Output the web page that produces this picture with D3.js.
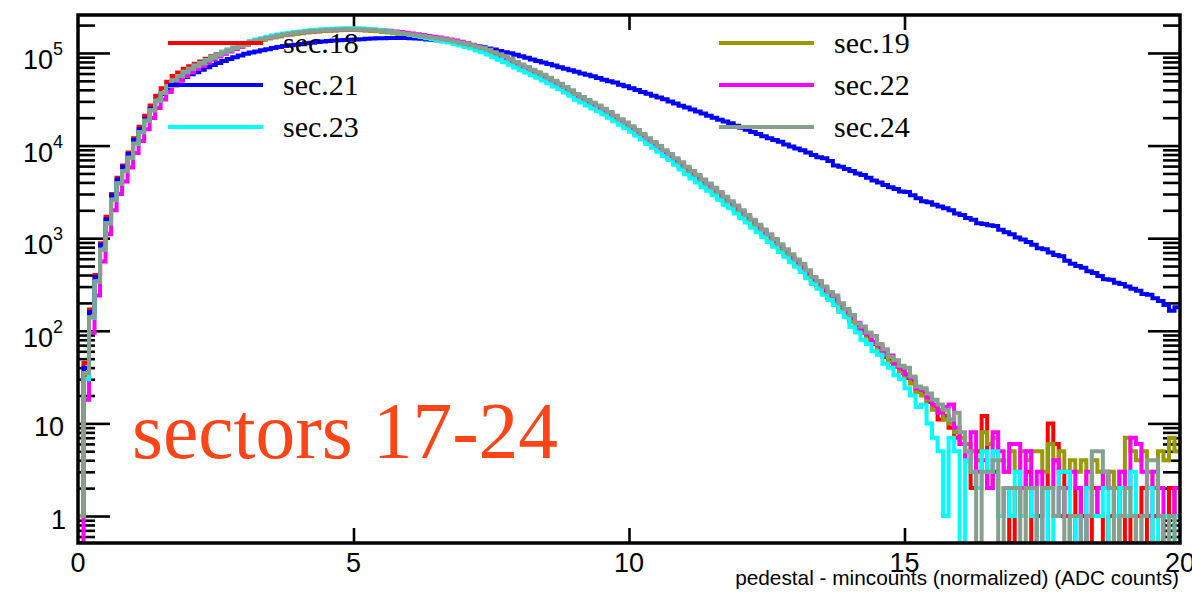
<!DOCTYPE html>
<html>
<head>
<meta charset="utf-8">
<script src="https://cdn.jsdelivr.net/npm/d3@7"></script>
<style>
  html, body { margin: 0; padding: 0; background: #fff; }
  svg { display: block; }
</style>
</head>
<body>
<svg id="chart" width="1192" height="592"></svg>
<script>
// ---- data: six sector histograms, 200 bins over [0, 20) ADC counts ----
const sectorNames = ["sec.18", "sec.19", "sec.21", "sec.22", "sec.23", "sec.24"];
const xRange = [0, 20];
const nBins = 200;

const sec18 = [
  1,45,170,400,880,1700,3000,4500,6100,8400,
  12000,16000,21000,27000,34500,41500,49000,56500,61500,67500,
  72000,76500,81000,86500,92000,97500,103000,108500,114000,119500,
  124000,130000,135000,140000,145000,148500,152500,156500,159500,162500,
  165500,168500,170500,172000,174000,175000,176000,177000,178000,178000,
  178000,177000,176000,175000,173000,171000,168500,165500,162500,159500,
  155000,152000,149000,146000,143000,140000,137000,134000,130000,126000,
  122500,118500,114500,110500,105000,99000,93000,87500,81500,75500,
  70500,66000,62000,58000,54000,50500,47000,43500,40000,37000,
  33800,31500,29100,27300,25400,23500,21600,19700,18100,16600,
  14900,13500,12200,11000,10000,9100,8200,7450,6700,6100,
  5400,4900,4400,3950,3600,3200,2900,2550,2300,2050,
  1850,1650,1450,1300,1140,1000,900,800,700,610,
  520,470,400,350,310,265,230,205,170,155,
  130,112,95,86,72,66,52,48,41,38,
  31,28,22,21,17,15,11,12,9,7,
  6,4,2,5,12,2,3,1,2,0,
  2,1,3,0,1,2,10,6,3,1,
  0,2,1,0,2,1,0,1,2,0,
  1,0,1,2,0,1,0,1,2,1
];

const sec19 = [
  1,32,145,345,760,1450,2650,3950,5300,7400,
  10500,14000,18500,24000,30500,37000,44000,50500,55500,61000,
  66000,71000,76000,82000,88000,93500,99000,105000,111000,117000,
  122500,128500,133500,138000,143000,147000,151000,155000,158000,160500,
  163500,166500,168500,170500,172500,173500,174500,175500,176500,176500,
  176500,175500,174500,173500,171500,169500,166500,163500,160000,156500,
  153000,149500,146000,143000,140000,137000,134000,131000,127500,123500,
  120000,116000,112000,107500,102500,96500,90500,85000,79000,73000,
  68000,64000,60000,56500,53000,49000,45500,42500,39000,36000,
  32800,30500,28200,26400,24600,22800,20900,19100,17600,16100,
  14400,13100,11800,10700,9700,8800,7900,7200,6500,5900,
  5250,4700,4300,3800,3450,3100,2800,2500,2200,2000,
  1780,1580,1400,1250,1100,980,870,770,680,600,
  500,460,380,330,300,250,225,200,165,150,
  125,105,96,80,74,60,55,46,42,35,
  33,27,22,20,18,14,14,11,10,8,
  7,6,5,4,8,6,7,4,3,5,
  3,5,4,5,5,3,6,4,5,3,
  4,3,4,2,4,3,2,3,2,3,
  7,5,4,5,3,2,5,4,7,5
];

const sec21 = [
  1,40,160,380,850,1600,2900,4300,5900,8100,
  11500,15000,19500,25000,30500,36000,41000,46000,51000,55000,
  59000,62000,66000,70000,74000,78000,82000,86000,90000,94000,
  98000,101000,104000,107000,110000,113000,116000,119000,121000,123000,
  125000,127000,129000,131000,133000,135000,136000,137000,138000,139000,
  140000,141000,142000,143000,144000,144000,145000,145000,145000,145000,
  144000,143000,142000,140000,139000,137000,135000,133000,131000,128000,
  126000,122000,119000,115000,112000,109000,105000,102000,99000,95500,
  92000,89000,85000,82000,79000,76000,73000,70000,67500,65000,
  62500,60000,58000,56000,53700,51500,49500,47900,45500,43600,
  41700,39700,38000,36300,34600,33100,31600,30000,28500,26900,
  25700,24500,23400,22200,21000,20000,19000,18200,17400,16400,
  15600,14800,14000,13300,12600,12000,11500,11000,10300,9800,
  9300,8900,8400,7900,7500,7300,6800,6100,5900,5600,
  5300,5000,4800,4500,4200,4000,3750,3550,3400,3200,
  3150,2900,2700,2500,2450,2300,2200,2100,2000,1850,
  1780,1650,1580,1450,1420,1380,1350,1230,1160,1100,
  1020,970,910,850,780,760,700,660,640,570,
  530,500,480,440,420,390,360,355,330,320,
  300,285,270,250,245,225,210,190,165,180
];

const sec22 = [
  0,18,95,240,560,1100,2000,3000,4100,5800,
  8300,11200,15000,19800,25500,31500,38000,44500,50000,56000,
  61500,67000,72500,78500,85000,91500,98000,104000,110500,117000,
  124000,130000,135500,140500,145500,150000,154000,158000,161000,164000,
  167000,170000,172000,174000,176000,177000,178000,179000,180000,180500,
  180500,180000,179000,178000,177000,175500,173500,171000,168000,165000,
  162000,159000,156000,152500,149500,146500,143000,140000,136000,132000,
  127500,123000,118000,112500,106000,100000,94000,89000,83500,77500,
  72500,68500,64000,60000,56000,52500,48500,45000,41500,38500,
  35000,32500,30000,28000,26000,24200,22300,20400,18700,17200,
  15500,14100,12800,11500,10500,9500,8500,7800,7000,6300,
  5650,5100,4600,4150,3750,3350,3000,2700,2400,2150,
  1920,1710,1520,1340,1190,1050,940,830,730,640,
  560,490,430,370,330,285,250,220,190,160,
  140,122,102,92,76,70,58,54,44,40,
  34,31,24,23,19,16,13,15,16,9,
  6,4,8,3,4,2,8,5,3,6,
  6,2,5,1,3,0,2,4,1,2,
  3,2,0,3,1,2,3,2,1,3,
  2,7,6,3,1,3,2,1,1,2
];

const sec23 = [
  1,30,138,340,750,1450,2600,3900,5300,7400,
  10400,13900,18500,24000,30500,37000,44000,51000,56500,62500,
  67500,73000,78000,84000,90000,96500,102500,109000,115000,121000,
  128000,134500,139500,144500,149500,154000,158000,162000,165000,168000,
  171000,174000,176500,178500,180500,181500,182500,183500,184500,184500,
  184500,183500,182000,180500,178000,175500,171000,167000,163500,160000,
  156000,152500,148500,144500,141000,137000,133000,129500,125000,120500,
  116000,111500,106500,101500,96000,90000,84500,80000,74500,69500,
  65000,61500,57500,54000,50500,47000,43500,40500,37500,34500,
  31300,29100,27000,25200,23500,21700,20000,18300,16800,15400,
  14100,12800,11600,10400,9500,8600,7700,7000,6200,5500,
  4900,4400,4000,3550,3250,2900,2600,2300,2100,1850,
  1650,1480,1300,1160,1030,910,810,710,630,550,
  490,430,370,320,285,245,215,190,160,140,
  110,96,80,72,60,55,44,40,33,30,
  24,20,15,16,10,7,5,1,7,5,
  0,4,3,2,5,3,5,1,2,1,
  3,1,2,1,0,2,0,1,3,3,
  0,1,0,2,1,1,2,0,1,2,
  1,3,0,1,2,0,1,1,0,1
];

const sec24 = [
  1,35,140,340,750,1450,2600,3900,5300,7400,
  10500,14000,18500,24000,30500,37000,44000,51000,56000,62000,
  67000,72000,77000,83000,89000,95000,101000,107000,113000,119000,
  125000,131000,136000,141000,146000,150000,154000,158000,161000,164000,
  167000,170000,172000,174000,176000,177000,178000,179000,180000,180000,
  180000,179000,178000,177000,175000,173000,170000,167000,164000,161000,
  158000,155000,152000,149000,146000,143000,140000,137000,133000,129000,
  125000,121000,117000,113000,108000,102000,97000,92000,86000,80000,
  75000,70500,66000,62000,58000,54000,50000,46500,43000,39500,
  36000,33500,31000,29000,27000,25000,23000,21000,19300,17700,
  16200,14700,13300,12000,10900,9900,8900,8100,7300,6600,
  5900,5300,4800,4300,3900,3500,3150,2800,2500,2250,
  2000,1780,1580,1400,1240,1100,980,860,760,670,
  590,530,450,380,345,300,262,240,198,172,
  148,120,111,96,88,72,63,52,48,42,
  40,32,25,24,21,18,16,14,11,13,
  8,5,3,0,3,3,4,0,2,2,
  2,0,2,2,0,2,2,1,2,0,
  1,1,0,1,5,5,3,2,0,1,
  2,1,0,1,4,4,1,0,1,0
];

const seriesValues = [sec18, sec19, sec21, sec22, sec23, sec24];
const xTickValues = [0, 5, 10, 15, 20];
const yDecades = [0, 1, 2, 3, 4, 5];
const yRange = [0.511, 2.57e5];
const xTitle = "pedestal - mincounts (normalized) (ADC counts)";
const caption = "sectors 17-24";

// ---- styling ----
const colors = ["#ff0000", "#999900", "#0000ff", "#ff00ff", "#00ffff", "#87a08e"];
const frame = { left: 78, top: 15, right: 1180, bottom: 543 };
const sansFont = "'Liberation Sans', Arial, Helvetica, sans-serif";
const serifFont = "'Liberation Serif', 'Times New Roman', Times, serif";

const svg = d3.select("#chart");

const x = d3.scaleLinear().domain(xRange).range([frame.left, frame.right]);
const y = d3.scaleLog().domain(yRange).range([frame.bottom, frame.top]).clamp(true);

svg.append("defs").append("clipPath").attr("id", "plotClip")
  .append("rect")
  .attr("x", frame.left).attr("y", frame.top)
  .attr("width", frame.right - frame.left).attr("height", frame.bottom - frame.top);

// ---- axes: log ticks on left/right, linear ticks on bottom/top ----
const majorY = yDecades.map(d => Math.pow(10, d));
const minorY = [];
for (let d = -1; d <= 5; d++) {
  for (let k = 2; k <= 9; k++) {
    const v = k * Math.pow(10, d);
    if (v >= yRange[0] && v <= yRange[1]) minorY.push(v);
  }
}
const innerX = xTickValues.filter(v => v > xRange[0] && v < xRange[1]);

const axes = svg.append("g").attr("class", "axes");

function tickStyle(g) {
  g.select(".domain").remove();
  g.selectAll("line").attr("stroke", "#000").attr("stroke-width", 2.6);
  g.selectAll("text").remove();
}

axes.append("g").attr("transform", `translate(${frame.left},0)`)
  .call(d3.axisLeft(y).tickValues(majorY).tickSizeInner(-32).tickSizeOuter(0).tickFormat(""))
  .call(tickStyle);
axes.append("g").attr("transform", `translate(${frame.left},0)`)
  .call(d3.axisLeft(y).tickValues(minorY).tickSizeInner(-17).tickSizeOuter(0).tickFormat(""))
  .call(tickStyle);
axes.append("g").attr("transform", `translate(${frame.right},0)`)
  .call(d3.axisRight(y).tickValues(majorY).tickSizeInner(-32).tickSizeOuter(0).tickFormat(""))
  .call(tickStyle);
axes.append("g").attr("transform", `translate(${frame.right},0)`)
  .call(d3.axisRight(y).tickValues(minorY).tickSizeInner(-17).tickSizeOuter(0).tickFormat(""))
  .call(tickStyle);
axes.append("g").attr("transform", `translate(0,${frame.bottom})`)
  .call(d3.axisBottom(x).tickValues(innerX).tickSizeInner(-15).tickSizeOuter(0).tickFormat(""))
  .call(tickStyle);
axes.append("g").attr("transform", `translate(0,${frame.top})`)
  .call(d3.axisTop(x).tickValues(innerX).tickSizeInner(-15).tickSizeOuter(0).tickFormat(""))
  .call(tickStyle);

// y tick labels: 1, 10, then powers of ten with superscripts
const yLabels = axes.append("g")
  .attr("font-family", sansFont).attr("font-size", 27).attr("fill", "#000")
  .attr("text-anchor", "end");
yDecades.forEach(d => {
  const ty = y(Math.pow(10, d));
  if (d === 0) {
    yLabels.append("text").attr("x", 66).attr("y", ty + 13).text("1");
  } else if (d === 1) {
    yLabels.append("text").attr("x", 64).attr("y", ty + 13).text("10");
  } else {
    const t = yLabels.append("text").attr("x", 63).attr("y", ty + 16);
    t.append("tspan").text("10");
    t.append("tspan").attr("font-size", 18).attr("dy", -14).text(String(d));
  }
});

// x tick labels
axes.append("g")
  .attr("font-family", sansFont).attr("font-size", 27).attr("fill", "#000")
  .attr("text-anchor", "middle")
  .selectAll("text").data(xTickValues).join("text")
  .attr("x", d => x(d)).attr("y", 572)
  .text(d => d);

// x axis title
svg.append("text")
  .attr("x", 1179).attr("y", 585)
  .attr("text-anchor", "end")
  .attr("font-family", sansFont).attr("font-size", 20.8).attr("fill", "#000")
  .text(xTitle);

// ---- histograms ----
const binWidth = (xRange[1] - xRange[0]) / nBins;
function stepPoints(vals) {
  const pts = [];
  vals.forEach((v, i) => {
    const x0 = x(xRange[0] + i * binWidth);
    const x1 = x(xRange[0] + (i + 1) * binWidth);
    const yy = y(v > 0 ? v : yRange[0]);
    pts.push([x0, yy], [x1, yy]);
  });
  return pts;
}
const line = d3.line();

svg.append("g").attr("clip-path", "url(#plotClip)")
  .selectAll("path").data(seriesValues).join("path")
  .attr("d", d => line(stepPoints(d)))
  .attr("fill", "none")
  .attr("stroke", (d, i) => colors[i])
  .attr("stroke-width", 4)
  .attr("stroke-linejoin", "miter");

// frame drawn over the curve ends
svg.append("rect")
  .attr("x", frame.left).attr("y", frame.top)
  .attr("width", frame.right - frame.left).attr("height", frame.bottom - frame.top)
  .attr("fill", "none").attr("stroke", "#000").attr("stroke-width", 3.5);

// ---- legend: two columns, row-wise ----
const legendCols = [{ lx: 168, tx: 283 }, { lx: 719, tx: 834 }];
const legendRows = [43, 85, 127];
const legend = svg.append("g");
sectorNames.forEach((name, i) => {
  const col = legendCols[i % 2];
  const ry = legendRows[Math.floor(i / 2)];
  legend.append("line")
    .attr("x1", col.lx).attr("x2", col.lx + 95)
    .attr("y1", ry).attr("y2", ry)
    .attr("stroke", colors[i]).attr("stroke-width", 4);
  legend.append("text")
    .attr("x", col.tx).attr("y", ry + 10)
    .attr("font-family", serifFont).attr("font-size", 30).attr("fill", "#000")
    .text(name);
});

// ---- caption ----
svg.append("text")
  .attr("x", 132).attr("y", 458)
  .attr("font-family", serifFont).attr("font-size", 79.5).attr("fill", "#ff4418")
  .text(caption);
</script>
</body>
</html>
